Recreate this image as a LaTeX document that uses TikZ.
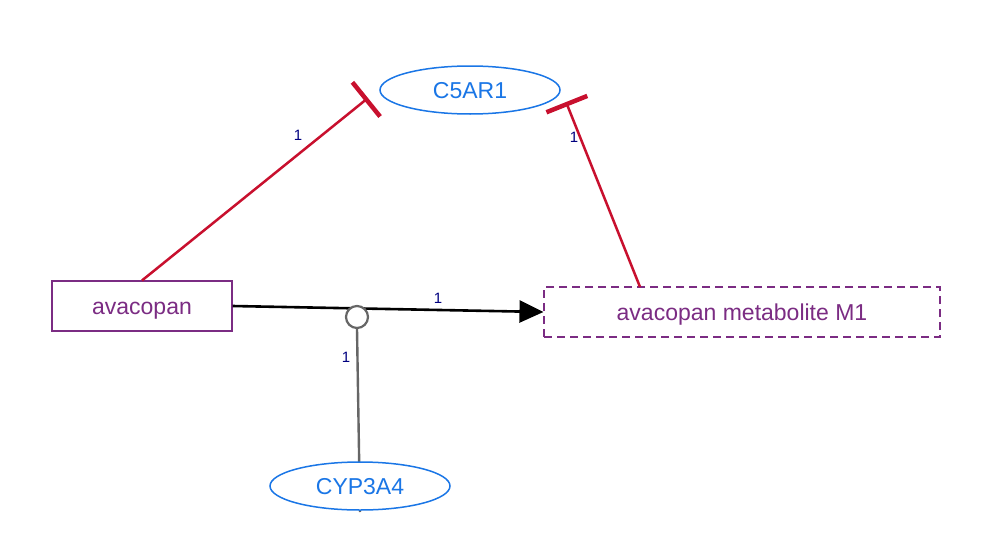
\documentclass[tikz,border=0pt]{standalone}
\usepackage{fontspec}
\setmainfont{Liberation Sans}
\usetikzlibrary{arrows.meta,shapes.geometric,calc}
\definecolor{pur}{HTML}{7B2C83}
\definecolor{blu}{HTML}{1A76E6}
\definecolor{rd}{HTML}{C8102E}
\definecolor{nav}{HTML}{00007F}
\definecolor{gr}{HTML}{666666}
\begin{document}
\begin{tikzpicture}[x=1pt,y=-1pt,
  chem/.style={draw=pur,line width=1.1pt,minimum width=180pt,minimum height=50pt,inner sep=0pt,
    font=\fontsize{23}{27}\selectfont,text=pur,fill=white,text height=24pt,text depth=8pt},
  chemdash/.style={chem,dashed,dash pattern=on 8pt off 5pt,minimum width=396pt},
  prot/.style={draw=blu,ellipse,line width=1.5pt,minimum width=180pt,minimum height=48pt,inner sep=0pt,
    font=\fontsize{23}{27}\selectfont,text=blu,fill=white,text height=24pt,text depth=8pt},
  inh/.style={draw=rd,line width=2.5pt,-{Bar[width=44pt,line width=4.5pt]}},
  conv/.style={draw=black,line width=2.6pt,-{Triangle[length=24pt,width=22pt]}},
  cat/.style={draw=gr,line width=2.4pt},
  lbl/.style={text=nav,font=\fontsize{15}{17}\selectfont,inner sep=0pt}]
\useasboundingbox (0,0) rectangle (982,546);
\node[chem] (av) at (142,306) {avacopan};
\node[chemdash] (m1) at (742,312) {avacopan metabolite M1};
\node[prot] (c5) at (470,90) {C5AR1};
\coordinate (t1) at (368,98);
\coordinate (t2) at (566,102);
\coordinate (m1top) at (640,287);
\coordinate (cypend) at (360,512);
\draw[inh] (av.north) -- (t1);
\draw[inh] (m1top) -- (t2);
\draw[conv] (av.east) -- (m1.west);
\node[circle,draw=gr,line width=2.2pt,fill=white,minimum size=22pt,inner sep=0pt] (pc) at (357,317) {};
\draw[cat] (pc.south) -- (cypend);
\node[prot] (cyp) at (360,486) {CYP3A4};
\node[lbl] (l1) at (298,135) {1};
\node[lbl] (l2) at (574,137) {1};
\node[lbl] (l3) at (438,298) {1};
\node[lbl] (l4) at (346,357) {1};
\end{tikzpicture}
\end{document}
